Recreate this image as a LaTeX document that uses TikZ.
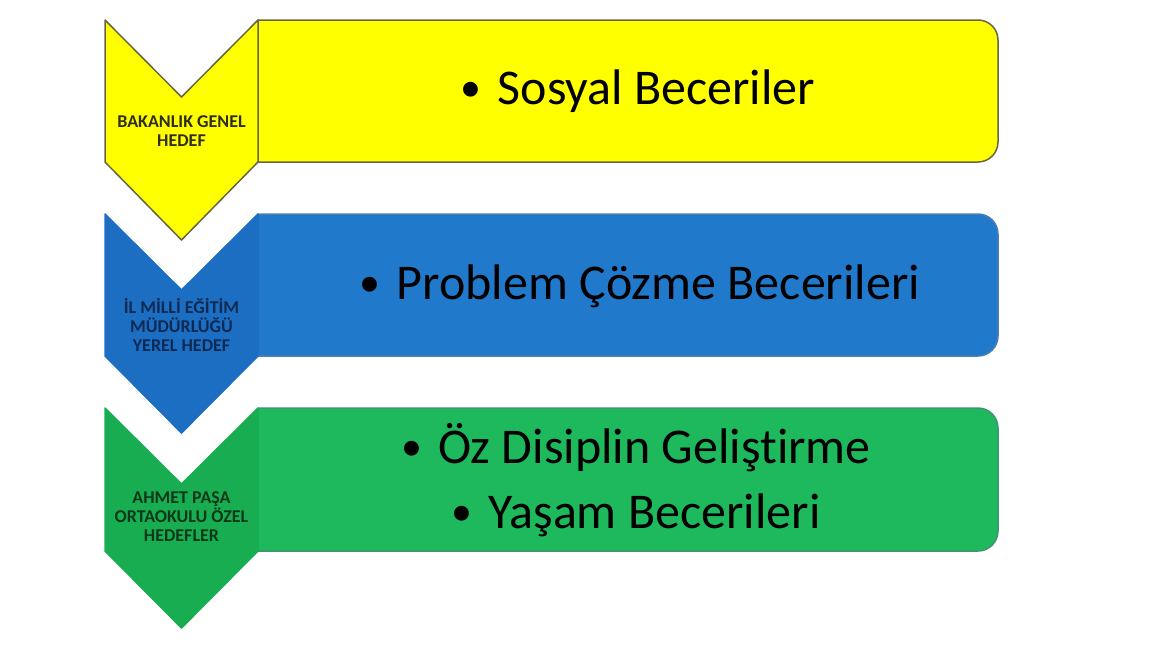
\documentclass[tikz,border=0pt]{standalone}
\usepackage{fontspec}
\setmainfont{Carlito}[Ligatures=NoCommon]
\usepackage{xcolor}
\definecolor{ylwfill}{HTML}{FFFF00}
\definecolor{ylwline}{HTML}{666645}
\definecolor{ylwtext}{HTML}{2E2E18}
\definecolor{bluchev}{HTML}{1B6EC2}
\definecolor{blufill}{HTML}{2079CA}
\definecolor{bluline}{HTML}{4A7FB5}
\definecolor{blutext}{HTML}{0E2A52}
\definecolor{grnchev}{HTML}{19AD52}
\definecolor{grnfill}{HTML}{1EB85D}
\definecolor{grnline}{HTML}{3F9478}
\definecolor{grntext}{HTML}{0A3818}
\newcommand{\itemdot}{\raisebox{3pt}{\fontsize{42}{42}\selectfont•}\hspace{16pt}}
\tikzset{chevlabel/.style = {align=center, inner sep=0pt, font=\fontsize{18}{19}\selectfont\bfseries},
         itemtext/.style = {align=center, inner sep=0pt, font=\fontsize{50}{65}\selectfont},
         panel/.style = {line width=1.5pt, line join=round}}

\begin{document}
\begin{tikzpicture}[x=1pt,y=-1pt]
                \useasboundingbox (0,0) rectangle (1150,646);

                % first row
                \draw[panel, draw=ylwline, fill=ylwfill] (258,20) -- (978,20) arc[start angle=-90, end angle=0, radius=20]
                    -- (998,142) arc[start angle=0, end angle=90, radius=20] -- (258,162) -- cycle;
                \draw[panel, draw=ylwline, fill=ylwfill] (105,20) -- (181.5,97) -- (258,20) -- (258,162) -- (181.5,240) -- (105,162) -- cycle;
                \node[chevlabel, text=ylwtext] (bakanlik) at (181.5,131) {BAKANLIK GENEL\\HEDEF};
                \node[itemtext] (sosyal) at (638,91) {\itemdot Sosyal Beceriler};

                % second row
                \draw[panel, draw=bluline, fill=blufill] (258,214) -- (978,214) arc[start angle=-90, end angle=0, radius=20]
                    -- (998,336) arc[start angle=0, end angle=90, radius=20] -- (258,356) -- cycle;
                \draw[panel, draw=bluchev, fill=bluchev] (105,214) -- (181.5,290) -- (258,214) -- (258,356) -- (181.5,433) -- (105,356) -- cycle;
                \node[chevlabel, text=blutext] (ilmilli) at (181.5,325) {İL MİLLİ EĞİTİM\\MÜDÜRLÜĞÜ\\YEREL HEDEF};
                \node[itemtext] (problem) at (640,286) {\itemdot Problem Çözme Becerileri};

                % third row
                \draw[panel, draw=grnline, fill=grnfill] (258,408) -- (978,408) arc[start angle=-90, end angle=0, radius=20]
                    -- (998,531) arc[start angle=0, end angle=90, radius=20] -- (258,551) -- cycle;
                \draw[panel, draw=grnchev, fill=grnchev] (105,408) -- (181.5,484) -- (258,408) -- (258,551) -- (181.5,628) -- (105,551) -- cycle;
                \node[chevlabel, text=grntext] (ahmetpasa) at (181.5,517) {AHMET PAŞA\\ORTAOKULU ÖZEL\\HEDEFLER};
                \node[itemtext] (ozdisiplin) at (636,480) {\itemdot Öz Disiplin Geliştirme\\\itemdot Yaşam Becerileri};
            \end{tikzpicture}
\end{document}
